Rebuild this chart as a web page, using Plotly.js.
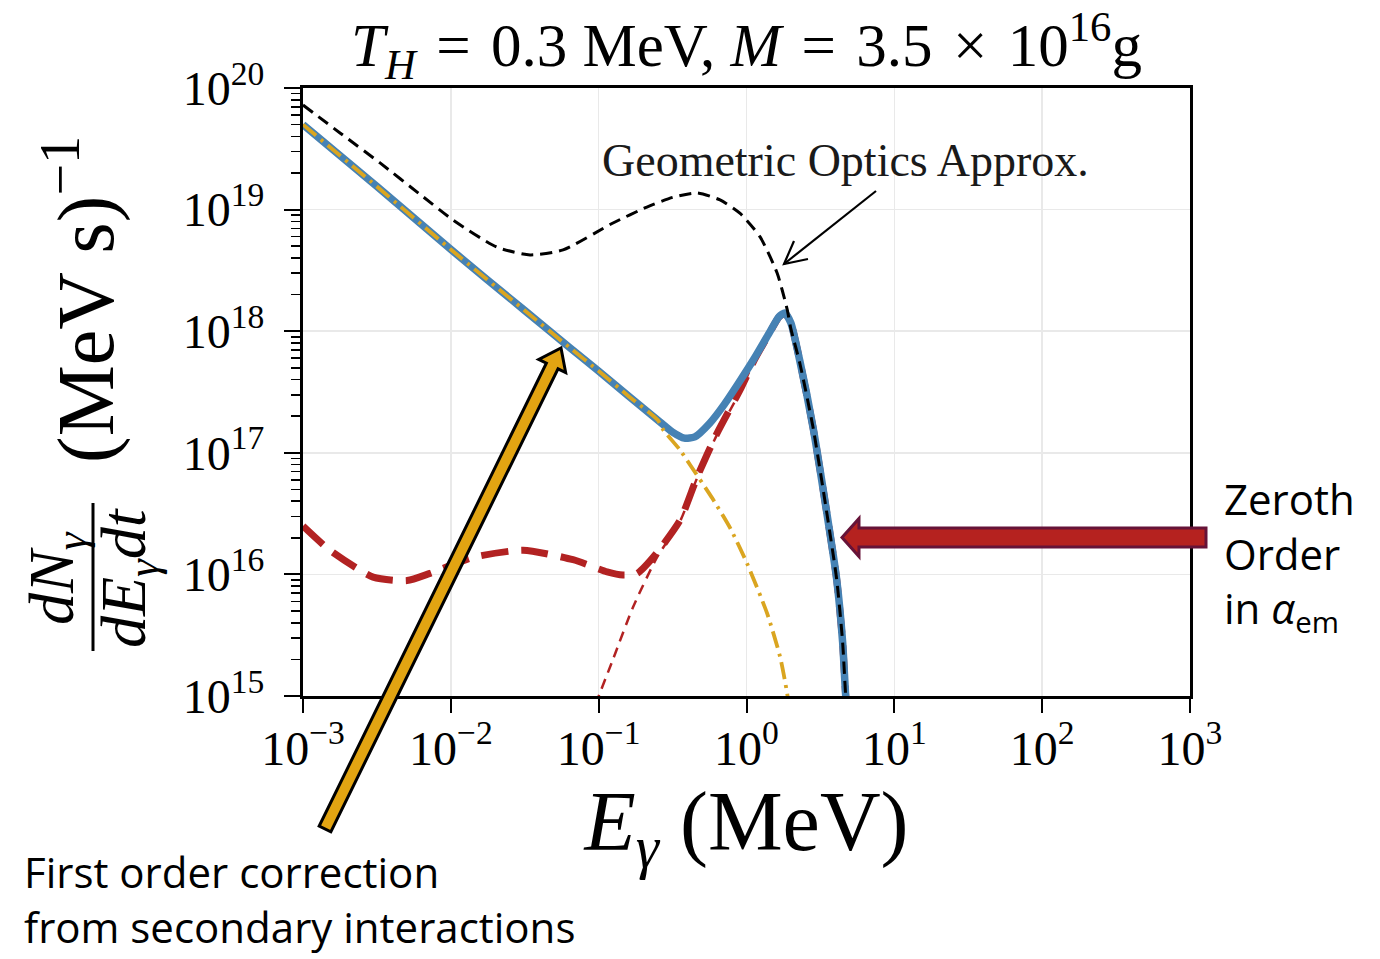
<!DOCTYPE html>
<html>
<head>
<meta charset="utf-8">
<script src="https://cdn.plot.ly/plotly-3.0.1.min.js"></script>
<style>html,body{margin:0;padding:0;background:#fff;}#chart{width:1380px;height:959px;}</style>
</head>
<body>
<div id="chart"></div>
<script>
// ---- data ----
const E_total = [0.001, 0.00316, 0.01, 0.0316, 0.0631, 0.1, 0.158, 0.251, 0.316, 0.380, 0.447, 0.562, 0.708, 0.891, 1.122, 1.413, 1.660, 1.820, 1.995, 2.291, 2.818, 3.467, 4.074, 4.467, 4.677, 4.898];
const N_total = [5.0e19, 1.55e19, 4.7e18, 1.48e18, 7.4e17, 4.7e17, 2.95e17, 1.86e17, 1.48e17, 1.32e17, 1.35e17, 1.74e17, 2.5e17, 3.8e17, 5.9e17, 9.5e17, 1.32e18, 1.41e18, 1.17e18, 5.75e17, 1.62e17, 3.4e16, 9.1e15, 2.8e15, 1.05e15, 5.0e14];

const E_geo = [0.001, 0.00178, 0.00332, 0.00631, 0.01035, 0.02056, 0.03436, 0.0574, 0.125, 0.212, 0.316, 0.463, 0.662, 0.906, 1.236, 1.611, 1.884, 1.995, 2.291, 2.818, 3.467, 4.074, 4.467, 4.677, 4.898];
const N_geo = [7.24e19, 4.27e19, 2.42e19, 1.31e19, 8.2e18, 4.9e18, 4.24e18, 4.66e18, 7.76e18, 1.05e19, 1.26e19, 1.37e19, 1.2e19, 9.3e18, 5.96e18, 3.01e18, 1.51e18, 1.05e18, 5.5e17, 1.62e17, 3.4e16, 9.1e15, 2.8e15, 1.05e15, 5.0e14];

const E_secondary = [0.001, 0.00316, 0.01, 0.0316, 0.0631, 0.1, 0.158, 0.251, 0.273, 0.356, 0.417, 0.589, 0.776, 1.009, 1.377, 1.687, 1.884, 1.995];
const N_secondary = [5.0e19, 1.55e19, 4.7e18, 1.48e18, 7.4e17, 4.7e17, 2.95e17, 1.86e17, 1.55e17, 1.05e17, 7.9e16, 4.2e16, 2.4e16, 1.23e16, 4.8e15, 2.1e15, 1.05e15, 6.3e14];

const E_primaryFull = [0.001, 0.00152, 0.00298, 0.00506, 0.00723, 0.01413, 0.0308, 0.0671, 0.114, 0.146, 0.182, 0.248, 0.356, 0.463, 0.632, 0.906, 1.122, 1.413, 1.660, 1.820, 1.995, 2.291, 2.818, 3.467, 4.074, 4.467, 4.677, 4.898];
const N_primaryFull = [2.5e16, 1.58e16, 9.5e15, 8.9e15, 1.02e16, 1.38e16, 1.58e16, 1.32e16, 1.05e16, 9.9e15, 1.02e16, 1.51e16, 2.8e16, 6.3e16, 1.45e17, 3.3e17, 5.7e17, 9.4e17, 1.31e18, 1.40e18, 1.17e18, 5.75e17, 1.62e17, 3.4e16, 9.1e15, 2.8e15, 1.05e15, 5.0e14];

const E_primary = [0.095, 0.125, 0.171, 0.248, 0.356, 0.463, 0.632, 0.906, 1.122, 1.413, 1.660, 1.820, 1.995, 2.291, 2.818, 3.467, 4.074, 4.467, 4.677, 4.898];
const N_primary = [8.5e14, 2.0e15, 5.4e15, 1.38e16, 2.75e16, 6.2e16, 1.41e17, 3.2e17, 5.6e17, 9.3e17, 1.30e18, 1.39e18, 1.16e18, 5.7e17, 1.6e17, 3.4e16, 9e15, 2.8e15, 1.05e15, 5e14];

const xTickVals = [1e-3, 1e-2, 1e-1, 1e0, 1e1, 1e2, 1e3];
const xTickText = ['10<sup>−3</sup>', '10<sup>−2</sup>', '10<sup>−1</sup>', '10<sup>0</sup>', '10<sup>1</sup>', '10<sup>2</sup>', '10<sup>3</sup>'];
const yTickVals = [1e15, 1e16, 1e17, 1e18, 1e19, 1e20];
const yTickText = ['10<sup>15</sup>', '10<sup>16</sup>', '10<sup>17</sup>', '10<sup>18</sup>', '10<sup>19</sup>', '10<sup>20</sup>'];

// minor tick positions (2..9 within each decade)
const yMinor = [];
yTickVals.slice(0, -1).forEach(d => { for (let m = 2; m <= 9; m++) yMinor.push(m * d); });

// ---- pixel -> paper helpers for decorations ----
const L = 303, R = 1190, T = 88, B = 696;
const px = x => (x - L) / (R - L);
const py = y => (B - y) / (B - T);
function pathFrom(points, close) {
  return points.map((p, i) => (i === 0 ? 'M ' : 'L ') + px(p[0]).toFixed(5) + ' ' + py(p[1]).toFixed(5)).join(' ') + (close ? ' Z' : '');
}

const SERIF = 'Liberation Serif, Times New Roman, serif';
const SANS = 'Open Sans, Noto Sans, sans-serif';

const traces = [
  {x: E_primary, y: N_primary, mode: 'lines', line: {color: '#B22222', width: 2.5, dash: '10px,7px', shape: 'spline', smoothing: 0.6}, hoverinfo: 'skip'},
  {x: E_primaryFull, y: N_primaryFull, mode: 'lines', line: {color: '#B22222', width: 7, dash: '27px,13px', shape: 'spline', smoothing: 0.6}, hoverinfo: 'skip'},
  {x: E_total, y: N_total, mode: 'lines', line: {color: '#4682B4', width: 7.5, shape: 'spline', smoothing: 0.6}, hoverinfo: 'skip'},
  {x: E_secondary, y: N_secondary, mode: 'lines', line: {color: '#DAA520', width: 3.8, dash: '17px,6px,3px,6px', shape: 'spline', smoothing: 0.6}, hoverinfo: 'skip'},
  {x: E_geo, y: N_geo, mode: 'lines', line: {color: '#000000', width: 3, dash: '12px,7px', shape: 'spline', smoothing: 0.6}, hoverinfo: 'skip'}
];

// block arrow polygon
function bigArrow(tail, tip, hw, hl, hh) {
  const dx = tip[0] - tail[0], dy = tip[1] - tail[1];
  const len = Math.hypot(dx, dy);
  const ux = dx / len, uy = dy / len, nx = -uy, ny = ux;
  const nk = [tip[0] - hl * ux, tip[1] - hl * uy];
  return [
    [tail[0] + hw * nx, tail[1] + hw * ny],
    [nk[0] + hw * nx, nk[1] + hw * ny],
    [nk[0] + hh * nx, nk[1] + hh * ny],
    tip,
    [nk[0] - hh * nx, nk[1] - hh * ny],
    [nk[0] - hw * nx, nk[1] - hw * ny],
    [tail[0] - hw * nx, tail[1] - hw * ny]
  ];
}

const shapes = [
  {type: 'path', xref: 'paper', yref: 'paper', path: pathFrom(bigArrow([325, 829], [561, 348], 6.5, 20, 15), true),
   fillcolor: '#E2A412', line: {color: '#000000', width: 3}, layer: 'above'},
  {type: 'path', xref: 'paper', yref: 'paper', path: pathFrom(bigArrow([1206, 537.5], [842, 537.5], 9.5, 17, 19), true),
   fillcolor: '#B5221F', line: {color: '#661338', width: 3}, layer: 'above'},
  {type: 'path', xref: 'paper', yref: 'paper', path: pathFrom([[876, 191], [784, 264]], false), line: {color: '#000', width: 2.2}, layer: 'above'},
  {type: 'path', xref: 'paper', yref: 'paper', path: pathFrom([[808, 259], [784, 264], [794, 241]], false), line: {color: '#000', width: 2.2}, layer: 'above'},
  {type: 'line', xref: 'paper', yref: 'paper', x0: px(93), x1: px(93), y0: py(503), y1: py(651), line: {color: '#000', width: 3}}
];

const annotations = [
  {xref: 'paper', yref: 'paper', x: px(845), y: py(160), text: 'Geometric Optics Approx.', showarrow: false,
   font: {family: SERIF, size: 46, color: '#1a1a1a'}, xanchor: 'center', yanchor: 'middle'},
  {xref: 'paper', yref: 'paper', x: px(80), y: py(300), text: '(MeV s)<sup>−1</sup>', showarrow: false, textangle: -90,
   font: {family: SERIF, size: 80, color: '#000'}, xanchor: 'center', yanchor: 'middle'},
  {xref: 'paper', yref: 'paper', x: px(56), y: py(578), text: '<i>dN</i><sub><i>γ</i></sub>', showarrow: false, textangle: -90,
   font: {family: SERIF, size: 64, color: '#000'}, xanchor: 'center', yanchor: 'middle'},
  {xref: 'paper', yref: 'paper', x: px(128), y: py(578), text: '<i>dE</i><sub><i>γ</i></sub><i>dt</i>', showarrow: false, textangle: -90,
   font: {family: SERIF, size: 64, color: '#000'}, xanchor: 'center', yanchor: 'middle'},
  {xref: 'paper', yref: 'paper', x: px(1222), y: py(556), text: 'Zeroth<br>Order<br>in <i>α</i><sub>em</sub>', showarrow: false, align: 'left',
   font: {family: SANS, size: 42, color: '#000'}, xanchor: 'left', yanchor: 'middle'},
  {xref: 'paper', yref: 'paper', x: px(22), y: py(899), text: 'First order correction<br>from secondary interactions', showarrow: false, align: 'left',
   font: {family: SANS, size: 42, color: '#000'}, xanchor: 'left', yanchor: 'middle'}
];

const axisCommon = {
  type: 'log', showline: true, linecolor: '#000', linewidth: 3, mirror: true,
  ticks: 'outside', tickcolor: '#000', tickwidth: 2, zeroline: false,
  showgrid: true, gridcolor: '#e9e9e9', gridwidth: 1.5,
  tickfont: {family: SERIF, size: 48, color: '#000'}, tickmode: 'array'
};

const layout = {
  width: 1380, height: 959,
  margin: {l: L, r: 1380 - R, t: T, b: 959 - B, pad: 0},
  paper_bgcolor: '#fff', plot_bgcolor: '#fff', showlegend: false,
  title: {text: '<i>T</i><sub><i>H</i></sub>\u2004=\u20040.3 MeV, <i>M</i>\u2004=\u20043.5\u2004×\u200410<sup>16</sup>g',
          font: {family: SERIF, size: 61, color: '#000'}, xref: 'paper', x: 0.5, xanchor: 'center',
          yref: 'container', y: 1 - 45 / 959, yanchor: 'middle'},
  xaxis: Object.assign({}, axisCommon, {
    range: [-3, 3], tickvals: xTickVals, ticktext: xTickText, ticklen: 14, ticklabelstandoff: -6,
    title: {text: '<i>E</i><sub><i>γ</i></sub> (MeV)', font: {family: SERIF, size: 84, color: '#000'}, standoff: 4}
  }),
  yaxis: Object.assign({}, axisCommon, {
    range: [15, 20], tickvals: yTickVals, ticktext: yTickText, ticklen: 16, ticklabelstandoff: 10,
    minor: {tickmode: 'array', tickvals: yMinor, ticks: 'outside', ticklen: 9, tickwidth: 1.5, tickcolor: '#000', showgrid: false},
    title: {text: ''}
  }),
  shapes: shapes,
  annotations: annotations
};

Plotly.newPlot('chart', traces, layout, {displayModeBar: false, staticPlot: true});
</script>
</body>
</html>
